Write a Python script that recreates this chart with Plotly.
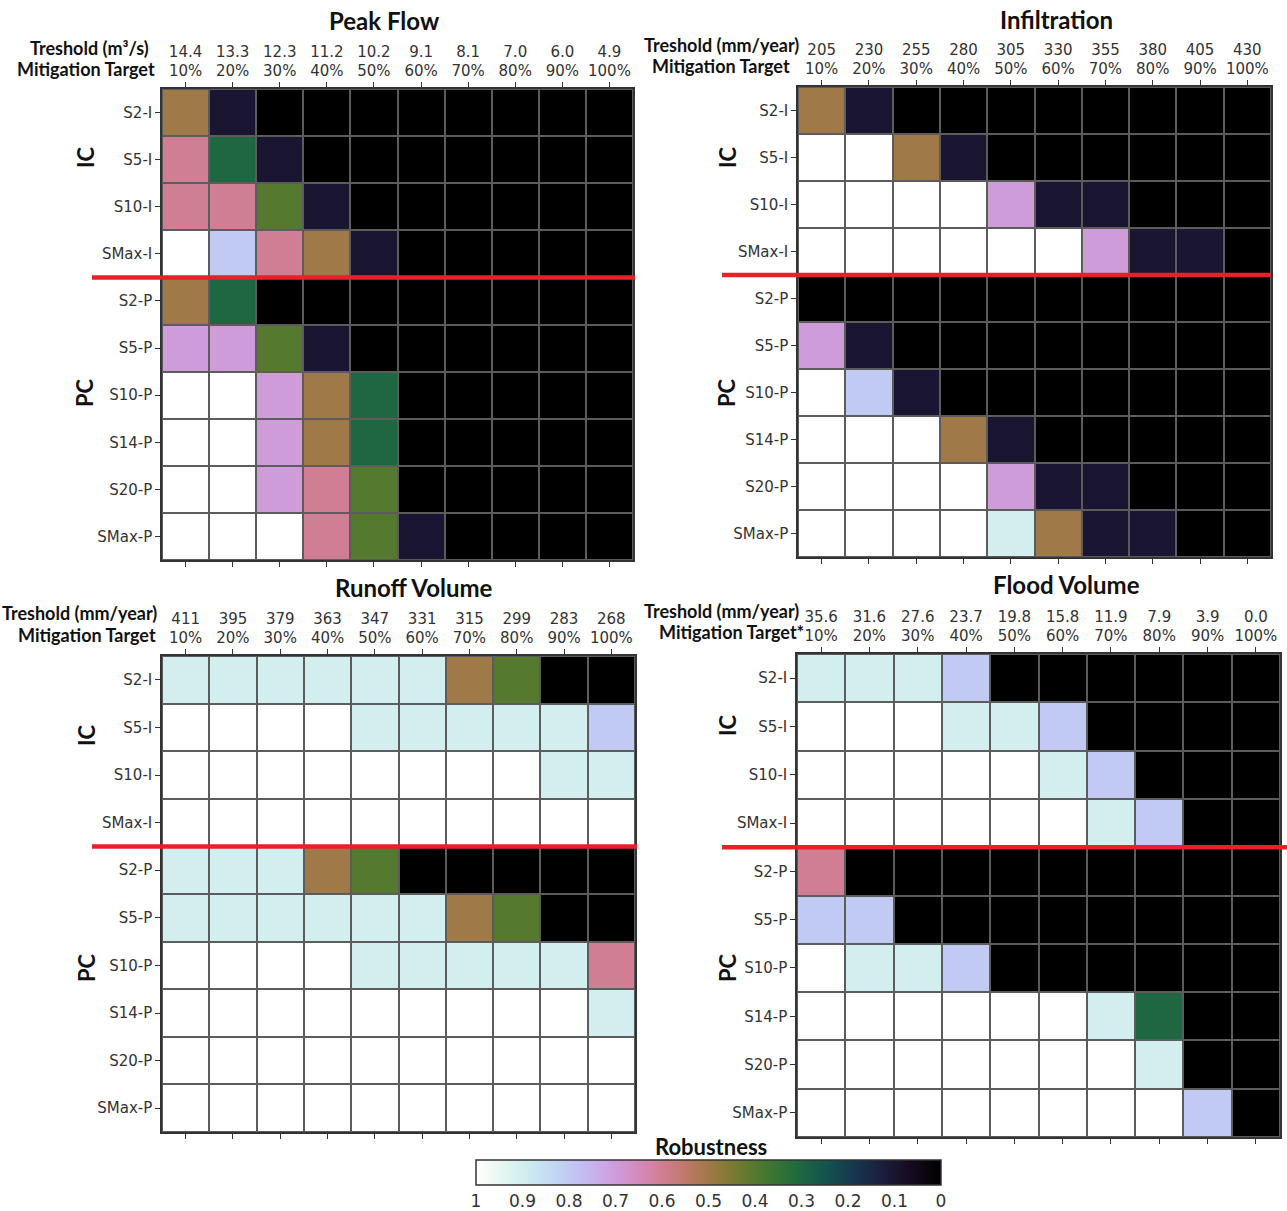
import numpy as np
import plotly.graph_objects as go

W, H = 1287, 1211

rows = ["S2-I", "S5-I", "S10-I", "SMax-I", "S2-P", "S5-P", "S10-P", "S14-P", "S20-P", "SMax-P"]
targets = ["10%", "20%", "30%", "40%", "50%", "60%", "70%", "80%", "90%", "100%"]

peak_thresh = ["14.4", "13.3", "12.3", "11.2", "10.2", "9.1", "8.1", "7.0", "6.0", "4.9"]
infil_thresh = ["205", "230", "255", "280", "305", "330", "355", "380", "405", "430"]
runoff_thresh = ["411", "395", "379", "363", "347", "331", "315", "299", "283", "268"]
flood_thresh = ["35.6", "31.6", "27.6", "23.7", "19.8", "15.8", "11.9", "7.9", "3.9", "0.0"]

peak_flow = [
    [0.5, 0.1, 0, 0, 0, 0, 0, 0, 0, 0],
    [0.6, 0.3, 0.1, 0, 0, 0, 0, 0, 0, 0],
    [0.6, 0.6, 0.4, 0.1, 0, 0, 0, 0, 0, 0],
    [1, 0.8, 0.6, 0.5, 0.1, 0, 0, 0, 0, 0],
    [0.5, 0.3, 0, 0, 0, 0, 0, 0, 0, 0],
    [0.7, 0.7, 0.4, 0.1, 0, 0, 0, 0, 0, 0],
    [1, 1, 0.7, 0.5, 0.3, 0, 0, 0, 0, 0],
    [1, 1, 0.7, 0.5, 0.3, 0, 0, 0, 0, 0],
    [1, 1, 0.7, 0.6, 0.4, 0, 0, 0, 0, 0],
    [1, 1, 1, 0.6, 0.4, 0.1, 0, 0, 0, 0],
]
infiltration = [
    [0.5, 0.1, 0, 0, 0, 0, 0, 0, 0, 0],
    [1, 1, 0.5, 0.1, 0, 0, 0, 0, 0, 0],
    [1, 1, 1, 1, 0.7, 0.1, 0.1, 0, 0, 0],
    [1, 1, 1, 1, 1, 1, 0.7, 0.1, 0.1, 0],
    [0, 0, 0, 0, 0, 0, 0, 0, 0, 0],
    [0.7, 0.1, 0, 0, 0, 0, 0, 0, 0, 0],
    [1, 0.8, 0.1, 0, 0, 0, 0, 0, 0, 0],
    [1, 1, 1, 0.5, 0.1, 0, 0, 0, 0, 0],
    [1, 1, 1, 1, 0.7, 0.1, 0.1, 0, 0, 0],
    [1, 1, 1, 1, 0.9, 0.5, 0.1, 0.1, 0, 0],
]
runoff_volume = [
    [0.9, 0.9, 0.9, 0.9, 0.9, 0.9, 0.5, 0.4, 0, 0],
    [1, 1, 1, 1, 0.9, 0.9, 0.9, 0.9, 0.9, 0.8],
    [1, 1, 1, 1, 1, 1, 1, 1, 0.9, 0.9],
    [1, 1, 1, 1, 1, 1, 1, 1, 1, 1],
    [0.9, 0.9, 0.9, 0.5, 0.4, 0, 0, 0, 0, 0],
    [0.9, 0.9, 0.9, 0.9, 0.9, 0.9, 0.5, 0.4, 0, 0],
    [1, 1, 1, 1, 0.9, 0.9, 0.9, 0.9, 0.9, 0.6],
    [1, 1, 1, 1, 1, 1, 1, 1, 1, 0.9],
    [1, 1, 1, 1, 1, 1, 1, 1, 1, 1],
    [1, 1, 1, 1, 1, 1, 1, 1, 1, 1],
]
flood_volume = [
    [0.9, 0.9, 0.9, 0.8, 0, 0, 0, 0, 0, 0],
    [1, 1, 1, 0.9, 0.9, 0.8, 0, 0, 0, 0],
    [1, 1, 1, 1, 1, 0.9, 0.8, 0, 0, 0],
    [1, 1, 1, 1, 1, 1, 0.9, 0.8, 0, 0],
    [0.6, 0, 0, 0, 0, 0, 0, 0, 0, 0],
    [0.8, 0.8, 0, 0, 0, 0, 0, 0, 0, 0],
    [1, 0.9, 0.9, 0.8, 0, 0, 0, 0, 0, 0],
    [1, 1, 1, 1, 1, 1, 0.9, 0.3, 0, 0],
    [1, 1, 1, 1, 1, 1, 1, 0.9, 0, 0],
    [1, 1, 1, 1, 1, 1, 1, 1, 0.8, 0],
]
cbar_ticks = [1, 0.9, 0.8, 0.7, 0.6, 0.5, 0.4, 0.3, 0.2, 0.1, 0]


def cubehelix(v, gamma=1.0, s=0.5, r=-1.5, h=1.0):
    xg = v ** gamma
    a = h * xg * (1 - xg) / 2
    phi = 2 * np.pi * (s / 3 + r * v)
    R = xg + a * (-0.14861 * np.cos(phi) + 1.78277 * np.sin(phi))
    G = xg + a * (-0.29227 * np.cos(phi) - 0.90649 * np.sin(phi))
    B = xg + a * (1.97294 * np.cos(phi))
    c = [int(round(255 * min(1, max(0, q)))) for q in (R, G, B)]
    return f"rgb({c[0]},{c[1]},{c[2]})"


# plotted value = 1 - robustness so the colorbar runs 1 (left) -> 0 (right)
colorscale = [[p, cubehelix(1 - p)] for p in np.linspace(0, 1, 61)]


def px_x(p):
    return p / W


def px_y(p):
    return 1 - p / H


panels = [
    dict(vals=peak_flow, th=peak_thresh, title="Peak Flow", th_label="Treshold (m³/s)", mt_label="Mitigation Target",
         x0=162, x1=633, y0=89, y1=560, title_xy=(384, 20), th_xy=(151, 48), mt_xy=(157, 69),
         ic_xy=(85, 157), pc_xy=(85, 393), red=(92, 635)),
    dict(vals=infiltration, th=infil_thresh, title="Infiltration", th_label="Treshold (mm/year)", mt_label="Mitigation Target",
         x0=798, x1=1271, y0=87, y1=557, title_xy=(1056, 19), th_xy=(801, 45), mt_xy=(792, 66),
         ic_xy=(727, 157), pc_xy=(727, 393), red=(722, 1271)),
    dict(vals=runoff_volume, th=runoff_thresh, title="Runoff Volume", th_label="Treshold (mm/year)", mt_label="Mitigation Target",
         x0=162, x1=635, y0=656, y1=1132, title_xy=(414, 587), th_xy=(159, 613), mt_xy=(158, 635),
         ic_xy=(86, 735), pc_xy=(86, 968), red=(92, 637)),
    dict(vals=flood_volume, th=flood_thresh, title="Flood Volume", th_label="Treshold (mm/year)", mt_label="Mitigation Target*",
         x0=797, x1=1280, y0=654, y1=1137, title_xy=(1066, 584), th_xy=(801, 611), mt_xy=(806, 632),
         ic_xy=(727, 725), pc_xy=(727, 968), red=(722, 1287)),
]

fig = go.Figure()
layout = dict(width=W, height=H, margin=dict(l=0, r=0, t=0, b=0),
              paper_bgcolor="white", plot_bgcolor="#5c5c5c", showlegend=False)
annotations = []
shapes = []
tick_font = dict(family="DejaVu Sans", size=15, color="#333333")
bold_font = "Lato"

for i, p in enumerate(panels, start=1):
    xa = "x" if i == 1 else f"x{i}"
    ya = "y" if i == 1 else f"y{i}"
    z = (1 - np.array(p["vals"], dtype=float)).tolist()
    trace = go.Heatmap(
        x=list(range(10)), y=list(range(10)), z=z,
        colorscale=colorscale, zmin=0, zmax=1, xgap=2, ygap=2,
        xaxis=xa, yaxis=ya, showscale=(i == 1), hoverinfo="skip",
    )
    if i == 1:
        trace.colorbar = dict(
            orientation="h", x=px_x(708.5), xanchor="center", y=px_y(1160), yanchor="top",
            len=465, lenmode="pixels", thickness=25, outlinecolor="#333333", outlinewidth=1.5,
            tickvals=[1 - v for v in cbar_ticks], ticktext=[f"{v:g}" for v in cbar_ticks],
            ticks="", tickfont=dict(family="DejaVu Sans", size=17, color="#333333"),
            xpad=0, ypad=0,
        )
    fig.add_trace(trace)
    layout["xaxis" if i == 1 else f"xaxis{i}"] = dict(
        domain=[px_x(p["x0"]), px_x(p["x1"])], anchor=ya, side="top",
        range=[-0.5, 9.5], tickvals=list(range(10)),
        ticktext=[f"{t}<br>{m}" for t, m in zip(p["th"], targets)],
        ticks="outside", ticklen=5, tickcolor="#333333", tickwidth=1.2,
        showline=True, linecolor="#333333", linewidth=1.5, mirror="ticks",
        showgrid=False, zeroline=False, tickfont=tick_font, fixedrange=True,
    )
    layout["yaxis" if i == 1 else f"yaxis{i}"] = dict(
        domain=[px_y(p["y1"]), px_y(p["y0"])], anchor=xa,
        range=[9.5, -0.5], tickvals=list(range(10)), ticktext=rows,
        ticks="outside", ticklen=5, tickcolor="#333333", tickwidth=1.2,
        showline=True, linecolor="#333333", linewidth=1.5, mirror=True,
        showgrid=False, zeroline=False, tickfont=tick_font, fixedrange=True,
    )
    annotations.append(dict(text=f"<b>{p['title']}</b>", x=px_x(p["title_xy"][0]), y=px_y(p["title_xy"][1]),
                            xref="paper", yref="paper", showarrow=False, xanchor="center", yanchor="middle",
                            font=dict(family=bold_font, size=24, color="#111111")))
    annotations.append(dict(text=f"<b>{p['th_label']}</b>", x=px_x(p["th_xy"][0]), y=px_y(p["th_xy"][1]),
                            xref="paper", yref="paper", showarrow=False, xanchor="right", yanchor="middle",
                            font=dict(family=bold_font, size=18, color="#111111")))
    annotations.append(dict(text=f"<b>{p['mt_label']}</b>", x=px_x(p["mt_xy"][0]), y=px_y(p["mt_xy"][1]),
                            xref="paper", yref="paper", showarrow=False, xanchor="right", yanchor="middle",
                            font=dict(family=bold_font, size=18, color="#111111")))
    for lab, key in (("IC", "ic_xy"), ("PC", "pc_xy")):
        annotations.append(dict(text=f"<b>{lab}</b>", x=px_x(p[key][0]), y=px_y(p[key][1]),
                                xref="paper", yref="paper", showarrow=False, textangle=-90,
                                xanchor="center", yanchor="middle",
                                font=dict(family=bold_font, size=22, color="#111111")))
    shapes.append(dict(type="line", xref="paper", yref=ya, x0=px_x(p["red"][0]), x1=px_x(p["red"][1]),
                       y0=3.5, y1=3.5, line=dict(color="#e8202a", width=4.5), layer="above"))

annotations.append(dict(text="<b>Robustness</b>", x=px_x(711), y=px_y(1146), xref="paper", yref="paper",
                        showarrow=False, xanchor="center", yanchor="middle",
                        font=dict(family=bold_font, size=22, color="#111111")))

layout["annotations"] = annotations
layout["shapes"] = shapes
fig.update_layout(**layout)
fig.write_html("out.html")
